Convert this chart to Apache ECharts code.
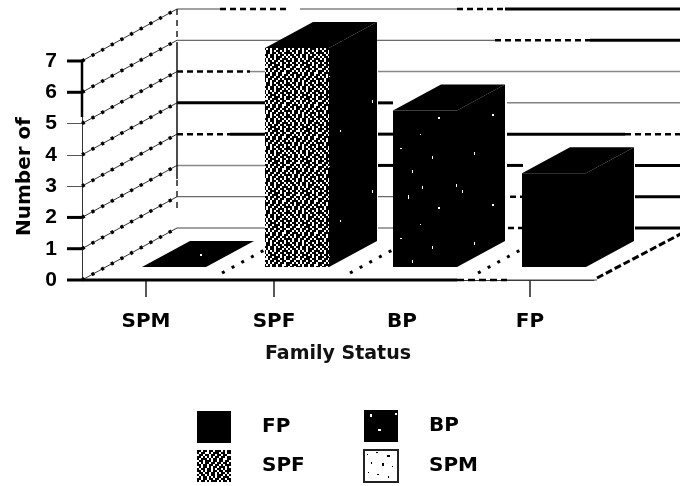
<!DOCTYPE html>
<html lang="en">
<head>
    <meta charset="UTF-8">
    <title>Family Status</title>
    <script type="text/javascript" src="https://cdn.jsdelivr.net/npm/echarts@6/dist/echarts.min.js"></script>
    <style>
        html, body { margin: 0; padding: 0; background: #fff; }
        #myChart { width: 680px; height: 486px; }
    </style>
</head>
<body>
<div id="myChart"></div>

<script type="text/javascript">
    // chart data
    var categories = ['SPM', 'SPF', 'BP', 'FP'];
    var counts = [0, 7, 5, 3];
    var yTicks = [0, 1, 2, 3, 4, 5, 6, 7];

    // look of the fake 3d box, pixels
    var WALL_DX = 95, WALL_DY = 52;
    var BAR_DX = 48, BAR_DY = 26, BAR_W = 64, BAR_LIFT = 13;
    var BAR_SHIFT = {SPM: -4, SPF: -9, BP: -9, FP: -8};

    // ink of each back wall line, px from the left of the grid: [from, to, kind]
    var wallInk = {
        0: [[95, 183, 't'], [296, 311, 't'], [426, 441, 'd'], [553, 610, 'T']],
        1: [[95, 183, 't'], [296, 311, 't'], [428, 441, 'd'], [553, 610, 'T']],
        2: [[95, 183, 'g'], [296, 311, 'T'], [425, 441, 'T'], [553, 610, 'T']],
        3: [[95, 148, 'd'], [148, 183, 'T'], [296, 311, 'T'], [425, 543, 'T'], [543, 610, 'd']],
        4: [[95, 183, 'T'], [296, 311, 'T'], [425, 610, 't']],
        5: [[95, 168, 'd'], [168, 183, 'g'], [296, 610, 'g']],
        6: [[95, 413, 't'], [413, 508, 'd'], [508, 610, 'T']],
        7: [[95, 138, 't'], [138, 205, 'd'], [218, 375, 't'], [375, 423, 'd'], [423, 610, 'T']]
    };
    var inkStyle = {
        t: {stroke: '#444', lineWidth: 1},
        g: {stroke: '#888', lineWidth: 1.5},
        T: {stroke: '#000', lineWidth: 3},
        d: {stroke: '#000', lineWidth: 2.5, lineDash: [6, 4]}
    };
    var thickTicks = [0, 1, 2, 6, 7];

    // two screen pixels for every character of the rows
    function bitmap(rows) {
        var c = document.createElement('canvas');
        c.width = rows[0].length * 2;
        c.height = rows.length * 2;
        var ctx = c.getContext('2d');
        ctx.fillStyle = '#fff';
        ctx.fillRect(0, 0, c.width, c.height);
        ctx.fillStyle = '#000';
        rows.forEach(function (row, y) {
            for (var x = 0; x < row.length; x++) {
                if (row.charAt(x) === '#') ctx.fillRect(x * 2, y * 2, 2, 2);
            }
        });
        return {image: c, repeat: 'repeat'};
    }

    function specks(size, bg, fg, pts) {
        var c = document.createElement('canvas');
        c.width = c.height = size;
        var ctx = c.getContext('2d');
        ctx.fillStyle = bg;
        ctx.fillRect(0, 0, size, size);
        ctx.fillStyle = fg;
        pts.forEach(function (p) {
            ctx.fillRect(p[0], p[1], p[2], p[3]);
        });
        return {image: c, repeat: 'repeat'};
    }

    var spfFill = bitmap([
        '##.##.##.###.#.#',
        '#.##..#.###.##.#',
        '.##.##.##.##.##.',
        '##.#.#.#.##.##.#',
        '#.###.#.##.##..#',
        '.##.###.##.##.##',
        '#.#.##.##.##.##.',
        '##.##.##.##.#.##',
        '.#.##.#.##.###.#',
        '#.##.##.#.##.#.#',
        '##.#.##.##.##.##',
        '.##.##.##.#.##.#',
        '#.##.#.##.###.#.',
        '.#.##.#.#.##.###',
        '##.##.##.##.##.#',
        '#.##.#.###.#.##.'
    ]);
    var bpFill = specks(90, '#000', '#fff', [
        [6, 4, 2, 3], [31, 3, 2, 2], [62, 6, 1, 3], [14, 19, 3, 2], [48, 15, 1, 4],
        [78, 27, 2, 2], [26, 35, 2, 3], [60, 44, 1, 1], [11, 52, 1, 3],
        [40, 58, 2, 1], [72, 66, 1, 3], [20, 74, 2, 2], [52, 80, 1, 3]
    ]);
    var sideFill = specks(90, '#000', '#fff', [
        [12, 10, 1, 3], [42, 24, 2, 2], [70, 40, 1, 2], [24, 62, 1, 3], [58, 76, 2, 1]
    ]);
    var spmFill = specks(32, '#fff', '#000', [
        [3, 4, 1, 1], [12, 2, 2, 1], [23, 5, 3, 2], [7, 12, 1, 2], [18, 13, 2, 3], [28, 16, 1, 1],
        [4, 22, 1, 1], [13, 24, 2, 1], [24, 26, 1, 2]
    ]);
    var fills = {FP: '#000', BP: bpFill, SPF: spfFill, SPM: spmFill};

    function line(x1, y1, x2, y2, style) {
        return {type: 'line', shape: {x1: x1, y1: y1, x2: x2, y2: y2}, style: style};
    }

    // back wall, left wall and thick bits of the axes, one pass per y tick
    function renderWall(params, api) {
        var box = params.coordSys;
        var v = api.value(1);
        var y = api.coord([0, v])[1];
        var x = box.x;
        var kids = [
            line(x, y, x + WALL_DX, y - WALL_DY, {stroke: '#333', lineWidth: 1}),
            line(x, y, x + WALL_DX, y - WALL_DY, {stroke: '#000', lineWidth: 3.5, lineDash: [3, 8]})
        ];
        wallInk[v].forEach(function (ink) {
            kids.push(line(x + ink[0], y - WALL_DY, x + ink[1], y - WALL_DY, inkStyle[ink[2]]));
        });
        if (thickTicks.indexOf(v) >= 0) {
            kids.push(line(x - 15, y, x, y, {stroke: '#000', lineWidth: 3}));
        }
        if (v === 0) {
            var right = box.x + box.width + 3;
            kids.push(line(x, y, x + 375, y, {stroke: '#000', lineWidth: 3}));
            kids.push(line(x + 375, y, x + 425, y, {stroke: '#000', lineWidth: 2.5, lineDash: [7, 4]}));
            kids.push(line(x + 425, y, right, y, {stroke: '#444', lineWidth: 1}));
            kids.push(line(right, y - 2, right + WALL_DX, y - WALL_DY, {stroke: '#000', lineWidth: 3, lineDash: [7, 3]}));
            kids.push(line(x + WALL_DX, y - WALL_DY - 20, x + WALL_DX, y - WALL_DY - 50, {stroke: '#222', lineWidth: 1.5, lineDash: [6, 5]}));
        }
        if (v === 7) {
            kids.push(line(x, y, x, y + 56, {stroke: '#000', lineWidth: 2.5}));
            kids.push(line(x + WALL_DX, y - WALL_DY, x + WALL_DX, y - WALL_DY + 34, {stroke: '#222', lineWidth: 1.5, lineDash: [6, 5]}));
            kids.push(line(x + WALL_DX, y - WALL_DY + 34, x + WALL_DX, y - WALL_DY + 170, {stroke: '#111', lineWidth: 1.5}));
        }
        return {type: 'group', children: kids};
    }

    // dotted floor lines between the categories
    function renderFloor(params, api) {
        var band = api.size([1, 0])[0];
        var p = api.coord([api.value(0), 0]);
        var x = p[0] + band / 2;
        return line(x + 12, p[1] - 7, x + WALL_DX, p[1] - WALL_DY, {stroke: '#000', lineWidth: 3, lineDash: [3, 8]});
    }

    function renderBar(params, api) {
        var name = categories[api.value(0)];
        var p = api.coord([api.value(0), 0]);
        var h = api.size([0, api.value(1)])[1];
        var l = p[0] + BAR_SHIFT[name];
        var r = l + BAR_W;
        var b = p[1] - BAR_LIFT;
        var t = b - h;
        var kids = [];
        if (h > 0) {
            kids.push({type: 'polygon', shape: {points: [[r, b], [r + BAR_DX, b - BAR_DY], [r + BAR_DX, t - BAR_DY], [r, t]]}, style: {fill: name === 'FP' ? '#000' : sideFill}});
            kids.push({type: 'rect', shape: {x: l, y: t, width: BAR_W, height: h}, style: {fill: fills[name]}});
        }
        kids.push({type: 'polygon', shape: {points: [[l, t], [r, t], [r + BAR_DX, t - BAR_DY], [l + BAR_DX, t - BAR_DY]]}, style: {fill: name === 'SPM' ? bpFill : '#000'}});
        return {type: 'group', children: kids};
    }

    var barSeries = ['FP', 'BP', 'SPF', 'SPM'].map(function (name) {
        var i = categories.indexOf(name);
        return {
            name: name,
            type: 'custom',
            renderItem: renderBar,
            itemStyle: {color: fills[name]},
            data: [[i, counts[i]]],
            z: 5
        };
    });

    function legendItem(name) {
        var item = {name: name, icon: 'rect', itemStyle: {color: fills[name]}};
        if (name === 'SPM') item.itemStyle = {color: fills[name], borderColor: '#222', borderWidth: 2};
        return item;
    }

    var legendBase = {
        orient: 'vertical',
        selectedMode: false,
        itemWidth: 34,
        itemHeight: 32,
        itemGap: 7,
        padding: 0,
        textStyle: {
            fontFamily: 'DejaVu Sans',
            fontWeight: 'bold',
            fontSize: 20,
            color: '#000',
            padding: [0, 0, 0, 26]
        }
    };

    var myChart = echarts.init(document.getElementById('myChart'), null, {renderer: 'canvas'});
    myChart.setOption({
        animation: false,
        backgroundColor: '#fff',
        grid: {left: 82, top: 61, width: 512, height: 219},
        legend: [
            Object.assign({}, legendBase, {left: 197, top: 411, data: ['FP', 'SPF'].map(legendItem)}),
            Object.assign({}, legendBase, {left: 363, top: 410, data: ['BP', 'SPM'].map(legendItem)})
        ],
        xAxis: {
            type: 'category',
            data: categories,
            name: 'Family Status',
            nameLocation: 'middle',
            nameGap: 65,
            nameTextStyle: {fontFamily: 'DejaVu Sans', fontWeight: 'bold', fontSize: 19, color: '#111'},
            axisLine: {lineStyle: {color: '#333', width: 1}},
            axisTick: {
                show: true,
                alignWithLabel: true,
                length: 17,
                lineStyle: {color: '#222', width: 1.5},
                interval: function (i) { return i !== 2; }
            },
            axisLabel: {
                margin: 32,
                fontFamily: 'DejaVu Sans',
                fontWeight: 'bold',
                fontSize: 20,
                color: '#000'
            }
        },
        yAxis: {
            type: 'value',
            min: 0,
            max: 7,
            interval: 1,
            name: 'Number of',
            nameLocation: 'middle',
            nameGap: 43,
            nameTextStyle: {fontFamily: 'DejaVu Sans', fontWeight: 'bold', fontSize: 20, color: '#000', padding: [0, 12, 0, 0]},
            splitLine: {show: false},
            axisLine: {show: true, lineStyle: {color: '#333', width: 1}},
            axisTick: {show: true, length: 15, lineStyle: {color: '#555', width: 1}},
            axisLabel: {
                margin: 25,
                fontFamily: 'Liberation Sans',
                fontWeight: 'bold',
                fontSize: 21,
                color: '#000'
            }
        },
        series: [{
            type: 'custom',
            name: 'wall',
            renderItem: renderWall,
            silent: true,
            data: yTicks.map(function (v) { return [0, v]; }),
            z: 1
        }, {
            type: 'custom',
            name: 'floor',
            renderItem: renderFloor,
            silent: true,
            data: categories.slice(0, 3).map(function (c, i) { return [i, 0]; }),
            z: 2
        }].concat(barSeries)
    });
</script>
</body>
</html>
